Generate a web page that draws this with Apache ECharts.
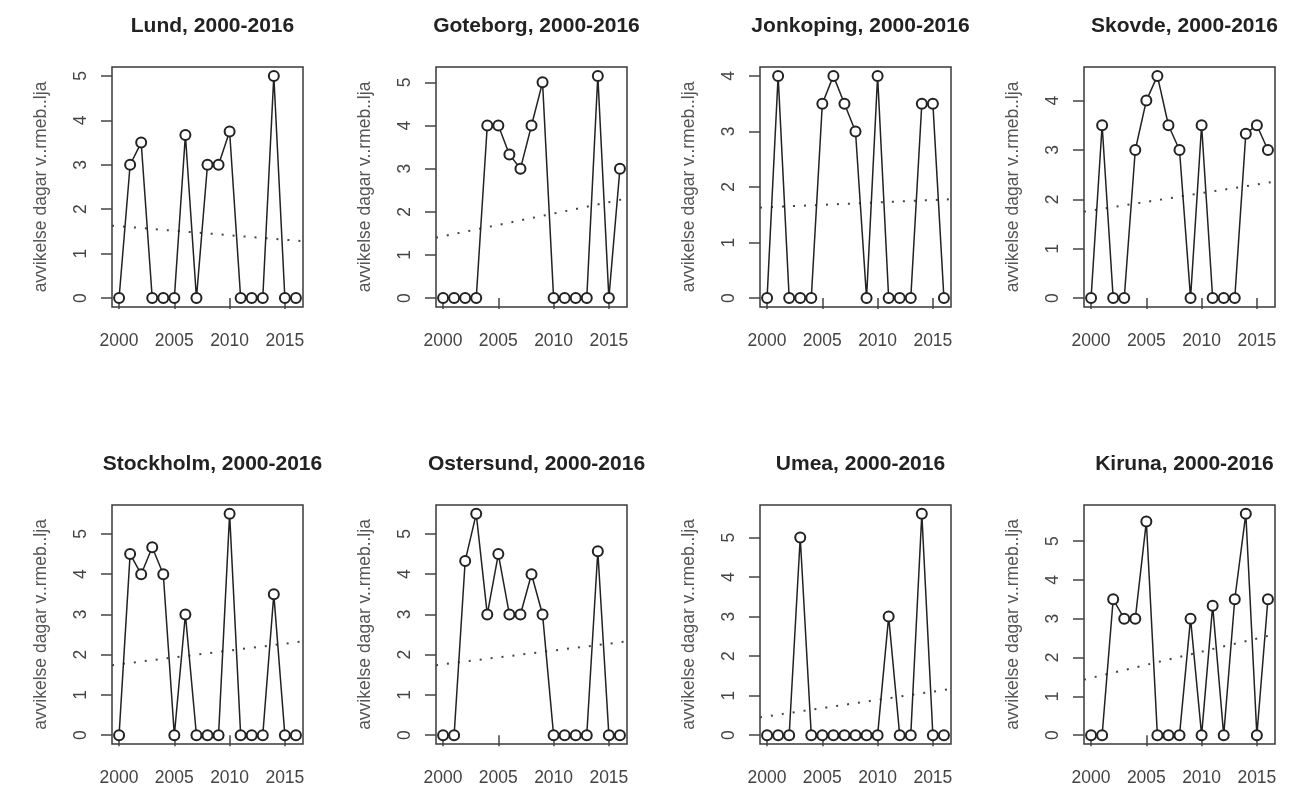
<!DOCTYPE html>
<html><head><meta charset="utf-8">
<script src="https://cdn.jsdelivr.net/npm/echarts@6/dist/echarts.min.js"></script>
<style>html,body{margin:0;padding:0;background:#fff}#c{width:1303px;height:787px}</style>
</head><body><div id="c"></div>
<script>
// ---- data ----
const years = [2000,2001,2002,2003,2004,2005,2006,2007,2008,2009,2010,2011,2012,2013,2014,2015,2016];
const cities = ['Lund','Goteborg','Jonkoping','Skovde','Stockholm','Ostersund','Umea','Kiruna'];
const lund      = [0,3,3.5,0,0,0,3.67,0,3,3,3.75,0,0,0,5,0,0];
const goteborg  = [0,0,0,0,4,4,3.33,3,4,5,0,0,0,0,5.15,0,3];
const jonkoping = [0,4,0,0,0,3.5,4,3.5,3,0,4,0,0,0,3.5,3.5,0];
const skovde    = [0,3.5,0,0,3,4,4.5,3.5,3,0,3.5,0,0,0,3.33,3.5,3];
const stockholm = [0,4.5,4,4.67,4,0,3,0,0,0,5.5,0,0,0,3.5,0,0];
const ostersund = [0,0,4.33,5.5,3,4.5,3,3,4,3,0,0,0,0,4.57,0,0];
const umea      = [0,0,0,5,0,0,0,0,0,0,0,3,0,0,5.6,0,0];
const kiruna    = [0,0,3.5,3,3,5.5,0,0,0,3,0,3.33,0,3.5,5.7,0,3.5];
const trendStart = [1.63,1.40,1.63,1.75,1.74,1.74,0.45,1.43];
const trendEnd   = [1.28,2.31,1.78,2.36,2.33,2.33,1.17,2.60];
const xTicks = [2000,2005,2010,2015];
const yTicksLund = [0,1,2,3,4,5];
const yTicksGoteborg = [0,1,2,3,4,5];
const yTicksJonkoping = [0,1,2,3,4];
const yTicksSkovde = [0,1,2,3,4];
const yTicksStockholm = [0,1,2,3,4,5];
const yTicksOstersund = [0,1,2,3,4,5];
const yTicksUmea = [0,1,2,3,4,5];
const yTicksKiruna = [0,1,2,3,4,5];
const titleSuffix = ', 2000-2016';
const yName = 'avvikelse dagar v..rmeb..lja';

const series_values = [lund,goteborg,jonkoping,skovde,stockholm,ostersund,umea,kiruna];
const yTickSets = [yTicksLund,yTicksGoteborg,yTicksJonkoping,yTicksSkovde,yTicksStockholm,yTicksOstersund,yTicksUmea,yTicksKiruna];

// ---- layout ----
const colLeft = [112, 436, 760, 1084];
const rowTop = [67, 505];
const gw = 191, gh = 240;
const FONT = 'Liberation Sans, Arial, Helvetica, sans-serif';
const xMin = years[0] - 0.04*(years[years.length-1]-years[0]);
const xMax = years[years.length-1] + 0.04*(years[years.length-1]-years[0]);

const grids=[], xAxes=[], yAxes=[], series=[], titles=[];
cities.forEach((c,i)=>{
  const col=i%4, row=Math.floor(i/4);
  const vals=series_values[i];
  const vmax=Math.max(...vals), vmin=Math.min(...vals);
  const ext=0.04*(vmax-vmin);
  grids.push({left:colLeft[col], top:rowTop[row], width:gw, height:gh,
    show:true, borderColor:'#3a3a3a', borderWidth:1.5, backgroundColor:'transparent'});
  titles.push({text:c+titleSuffix, left:colLeft[col]+gw/2, top:rowTop[row]-56, textAlign:'center',
    textStyle:{fontFamily:FONT, fontSize:21, fontWeight:'bold', color:'#222'}});
  xAxes.push({type:'value', gridIndex:i, min:xMin, max:xMax,
    axisLine:{show:false}, splitLine:{show:false},
    axisTick:{show:true, length:11, customValues:xTicks, lineStyle:{color:'#444', width:1.5}},
    axisLabel:{show:true, customValues:xTicks, margin:25, formatter:v=>String(v),
      fontFamily:FONT, fontSize:17.5, color:'#444'}});
  yAxes.push({type:'value', gridIndex:i, min:vmin-ext, max:vmax+ext,
    name:yName, nameLocation:'middle', nameGap:62,
    nameTextStyle:{fontFamily:FONT, fontSize:17.5, color:'#555'},
    axisLine:{show:false}, splitLine:{show:false},
    axisTick:{show:true, length:11, customValues:yTickSets[i], lineStyle:{color:'#444', width:1.5}},
    axisLabel:{show:true, rotate:90, customValues:yTickSets[i], margin:22, formatter:v=>String(v),
      fontFamily:FONT, fontSize:17.5, color:'#444'}});
  series.push({type:'line', xAxisIndex:i, yAxisIndex:i, silent:true,
    data:[[xMin,trendStart[i]],[xMax,trendEnd[i]]], symbol:'none',
    lineStyle:{color:'#444', width:2, type:[2,9]}, z:1});
  series.push({type:'line', xAxisIndex:i, yAxisIndex:i, silent:true,
    data:years.map((y,k)=>[y,vals[k]]), symbol:'emptyCircle', symbolSize:10, showSymbol:true,
    lineStyle:{color:'#222', width:1.5},
    itemStyle:{color:'#222', borderColor:'#222', borderWidth:1.5}, z:2});
});

const chart = echarts.init(document.getElementById('c'), null, {renderer:'canvas'});
chart.setOption({animation:false, backgroundColor:'#fff', title:titles, grid:grids, xAxis:xAxes, yAxis:yAxes, series:series});
</script></body></html>
